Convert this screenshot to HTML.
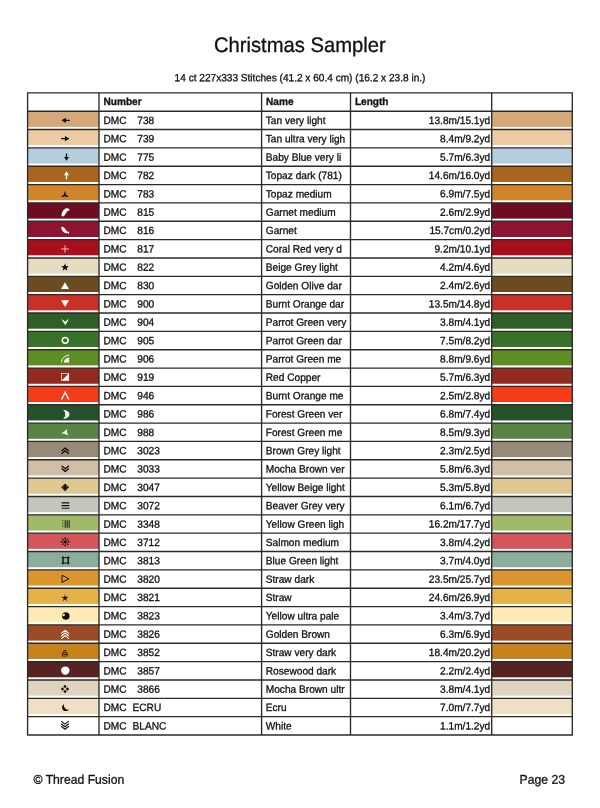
<!DOCTYPE html>
<html><head><meta charset="utf-8"><title>Christmas Sampler</title>
<style>
html,body{margin:0;padding:0;background:#fff;}
body{width:600px;height:808px;overflow:hidden;}
svg{display:block;filter:blur(0.35px);}
text{font-family:"Liberation Sans",sans-serif;fill:#111;stroke:#111;stroke-width:0.3px;text-rendering:geometricPrecision;}
.t{font-size:20.2px;}
.s{font-size:10.1px;}
.h{font-size:10.1px;font-weight:bold;}
.c{font-size:10.15px;}
.f{font-size:12.2px;}
</style></head>
<body>
<svg width="600" height="808" viewBox="0 0 600 808">
<text class="t" text-anchor="middle" transform="translate(299.80 52.00) rotate(0.03) scale(1 1.04)">Christmas Sampler</text>
<text class="s" text-anchor="middle" transform="translate(300.00 81.20) rotate(0.03) scale(1 1.04)">14 ct 227x333 Stitches (41.2 x 60.4 cm) (16.2 x 23.8 in.)</text>
<rect x="27.6" y="111.20" width="71.40" height="15.70" fill="#D4A878"/><rect x="491.7" y="111.20" width="80.60" height="15.70" fill="#D4A878"/>
<rect x="27.6" y="129.54" width="71.40" height="15.70" fill="#ECCBA2"/><rect x="491.7" y="129.54" width="80.60" height="15.70" fill="#ECCBA2"/>
<rect x="27.6" y="147.89" width="71.40" height="15.70" fill="#B5CEDE"/><rect x="491.7" y="147.89" width="80.60" height="15.70" fill="#B5CEDE"/>
<rect x="27.6" y="166.24" width="71.40" height="15.70" fill="#A9651E"/><rect x="491.7" y="166.24" width="80.60" height="15.70" fill="#A9651E"/>
<rect x="27.6" y="184.59" width="71.40" height="15.70" fill="#D0852A"/><rect x="491.7" y="184.59" width="80.60" height="15.70" fill="#D0852A"/>
<rect x="27.6" y="202.93" width="71.40" height="15.70" fill="#6E0C22"/><rect x="491.7" y="202.93" width="80.60" height="15.70" fill="#6E0C22"/>
<rect x="27.6" y="221.28" width="71.40" height="15.70" fill="#8C1430"/><rect x="491.7" y="221.28" width="80.60" height="15.70" fill="#8C1430"/>
<rect x="27.6" y="239.63" width="71.40" height="15.70" fill="#A80E1C"/><rect x="491.7" y="239.63" width="80.60" height="15.70" fill="#A80E1C"/>
<rect x="27.6" y="257.97" width="71.40" height="15.70" fill="#E6DCC0"/><rect x="491.7" y="257.97" width="80.60" height="15.70" fill="#E6DCC0"/>
<rect x="27.6" y="276.32" width="71.40" height="15.70" fill="#6B4C22"/><rect x="491.7" y="276.32" width="80.60" height="15.70" fill="#6B4C22"/>
<rect x="27.6" y="294.67" width="71.40" height="15.70" fill="#C83226"/><rect x="491.7" y="294.67" width="80.60" height="15.70" fill="#C83226"/>
<rect x="27.6" y="313.01" width="71.40" height="15.70" fill="#2F5F27"/><rect x="491.7" y="313.01" width="80.60" height="15.70" fill="#2F5F27"/>
<rect x="27.6" y="331.36" width="71.40" height="15.70" fill="#397128"/><rect x="491.7" y="331.36" width="80.60" height="15.70" fill="#397128"/>
<rect x="27.6" y="349.71" width="71.40" height="15.70" fill="#5C8E24"/><rect x="491.7" y="349.71" width="80.60" height="15.70" fill="#5C8E24"/>
<rect x="27.6" y="368.06" width="71.40" height="15.70" fill="#922A20"/><rect x="491.7" y="368.06" width="80.60" height="15.70" fill="#922A20"/>
<rect x="27.6" y="386.40" width="71.40" height="15.70" fill="#F53C1A"/><rect x="491.7" y="386.40" width="80.60" height="15.70" fill="#F53C1A"/>
<rect x="27.6" y="404.75" width="71.40" height="15.70" fill="#25512B"/><rect x="491.7" y="404.75" width="80.60" height="15.70" fill="#25512B"/>
<rect x="27.6" y="423.10" width="71.40" height="15.70" fill="#5A8445"/><rect x="491.7" y="423.10" width="80.60" height="15.70" fill="#5A8445"/>
<rect x="27.6" y="441.44" width="71.40" height="15.70" fill="#948C76"/><rect x="491.7" y="441.44" width="80.60" height="15.70" fill="#948C76"/>
<rect x="27.6" y="459.79" width="71.40" height="15.70" fill="#D2BDA6"/><rect x="491.7" y="459.79" width="80.60" height="15.70" fill="#D2BDA6"/>
<rect x="27.6" y="478.14" width="71.40" height="15.70" fill="#DEC992"/><rect x="491.7" y="478.14" width="80.60" height="15.70" fill="#DEC992"/>
<rect x="27.6" y="496.48" width="71.40" height="15.70" fill="#C4C5BD"/><rect x="491.7" y="496.48" width="80.60" height="15.70" fill="#C4C5BD"/>
<rect x="27.6" y="514.83" width="71.40" height="15.70" fill="#A2B96A"/><rect x="491.7" y="514.83" width="80.60" height="15.70" fill="#A2B96A"/>
<rect x="27.6" y="533.18" width="71.40" height="15.70" fill="#D2575D"/><rect x="491.7" y="533.18" width="80.60" height="15.70" fill="#D2575D"/>
<rect x="27.6" y="551.52" width="71.40" height="15.70" fill="#8BAD9C"/><rect x="491.7" y="551.52" width="80.60" height="15.70" fill="#8BAD9C"/>
<rect x="27.6" y="569.87" width="71.40" height="15.70" fill="#DA962C"/><rect x="491.7" y="569.87" width="80.60" height="15.70" fill="#DA962C"/>
<rect x="27.6" y="588.22" width="71.40" height="15.70" fill="#E5B24A"/><rect x="491.7" y="588.22" width="80.60" height="15.70" fill="#E5B24A"/>
<rect x="27.6" y="606.57" width="71.40" height="15.70" fill="#FEEAB4"/><rect x="491.7" y="606.57" width="80.60" height="15.70" fill="#FEEAB4"/>
<rect x="27.6" y="624.91" width="71.40" height="15.70" fill="#9B4B25"/><rect x="491.7" y="624.91" width="80.60" height="15.70" fill="#9B4B25"/>
<rect x="27.6" y="643.26" width="71.40" height="15.70" fill="#C6831C"/><rect x="491.7" y="643.26" width="80.60" height="15.70" fill="#C6831C"/>
<rect x="27.6" y="661.61" width="71.40" height="15.70" fill="#562322"/><rect x="491.7" y="661.61" width="80.60" height="15.70" fill="#562322"/>
<rect x="27.6" y="679.95" width="71.40" height="15.70" fill="#DED3BF"/><rect x="491.7" y="679.95" width="80.60" height="15.70" fill="#DED3BF"/>
<rect x="27.6" y="698.30" width="71.40" height="15.70" fill="#EEDFC5"/><rect x="491.7" y="698.30" width="80.60" height="15.70" fill="#EEDFC5"/>
<g stroke="#2a2a2a" stroke-width="1.35" fill="none">
<path d="M27.1,92.85H572.8"/><path d="M27.1,111.20H572.8"/><path d="M27.1,129.54H572.8"/><path d="M27.1,147.89H572.8"/><path d="M27.1,166.24H572.8"/><path d="M27.1,184.59H572.8"/><path d="M27.1,202.93H572.8"/><path d="M27.1,221.28H572.8"/><path d="M27.1,239.63H572.8"/><path d="M27.1,257.97H572.8"/><path d="M27.1,276.32H572.8"/><path d="M27.1,294.67H572.8"/><path d="M27.1,313.01H572.8"/><path d="M27.1,331.36H572.8"/><path d="M27.1,349.71H572.8"/><path d="M27.1,368.06H572.8"/><path d="M27.1,386.40H572.8"/><path d="M27.1,404.75H572.8"/><path d="M27.1,423.10H572.8"/><path d="M27.1,441.44H572.8"/><path d="M27.1,459.79H572.8"/><path d="M27.1,478.14H572.8"/><path d="M27.1,496.48H572.8"/><path d="M27.1,514.83H572.8"/><path d="M27.1,533.18H572.8"/><path d="M27.1,551.52H572.8"/><path d="M27.1,569.87H572.8"/><path d="M27.1,588.22H572.8"/><path d="M27.1,606.57H572.8"/><path d="M27.1,624.91H572.8"/><path d="M27.1,643.26H572.8"/><path d="M27.1,661.61H572.8"/><path d="M27.1,679.95H572.8"/><path d="M27.1,698.30H572.8"/><path d="M27.1,716.65H572.8"/><path d="M27.1,735.00H572.8"/>
<path d="M27.6,92.85V735.00"/><path d="M99.0,92.85V735.00"/><path d="M261.6,92.85V735.00"/><path d="M350.5,92.85V735.00"/><path d="M491.7,92.85V735.00"/><path d="M572.3,92.85V735.00"/>
</g>
<text class="h" transform="translate(103.50 104.95) rotate(0.03) scale(1 1.04)">Number</text><text class="h" transform="translate(266.00 104.95) rotate(0.03) scale(1 1.04)">Name</text><text class="h" transform="translate(354.90 104.95) rotate(0.03) scale(1 1.04)">Length</text>
<g transform="translate(65.6,120.34)"><path d="M-4.2,0 L0.3,-2.6 L0.3,-0.65 L4.1,-0.65 L4.1,0.65 L0.3,0.65 L0.3,2.6 Z" fill="#111"/></g><text class="c" transform="translate(103.50 124.00) rotate(0.03) scale(1 1.04)">DMC</text><text class="c" transform="translate(137.30 124.00) rotate(0.03) scale(1 1.04)">738</text><text class="c" transform="translate(265.80 124.00) rotate(0.03) scale(1 1.04)">Tan very light</text><text class="c" text-anchor="end" transform="translate(490.20 124.00) rotate(0.03) scale(1 1.04)">13.8m/15.1yd</text>
<g transform="translate(65.2,138.67)"><path d="M4.2,0 L-0.3,-2.6 L-0.3,-0.65 L-4.1,-0.65 L-4.1,0.65 L-0.3,0.65 L-0.3,2.6 Z" fill="#111"/></g><text class="c" transform="translate(103.50 142.35) rotate(0.03) scale(1 1.04)">DMC</text><text class="c" transform="translate(137.30 142.35) rotate(0.03) scale(1 1.04)">739</text><text class="c" transform="translate(265.80 142.35) rotate(0.03) scale(1 1.04)">Tan ultra very ligh</text><text class="c" text-anchor="end" transform="translate(490.20 142.35) rotate(0.03) scale(1 1.04)">8.4m/9.2yd</text>
<g transform="translate(66.5,157.00)"><path d="M0,3.8 L-2.5,-0.1 L-0.65,-0.1 L-0.65,-3.5 L0.65,-3.5 L0.65,-0.1 L2.5,-0.1 Z" fill="#111"/></g><text class="c" transform="translate(103.50 160.69) rotate(0.03) scale(1 1.04)">DMC</text><text class="c" transform="translate(137.30 160.69) rotate(0.03) scale(1 1.04)">775</text><text class="c" transform="translate(265.80 160.69) rotate(0.03) scale(1 1.04)">Baby Blue very li</text><text class="c" text-anchor="end" transform="translate(490.20 160.69) rotate(0.03) scale(1 1.04)">5.7m/6.3yd</text>
<g transform="translate(66.5,175.24)"><path d="M0,-4 L-2.5,0.1 L-0.7,0.1 L-0.7,3.9 L0.7,3.9 L0.7,0.1 L2.5,0.1 Z" fill="#fff"/></g><text class="c" transform="translate(103.50 179.04) rotate(0.03) scale(1 1.04)">DMC</text><text class="c" transform="translate(137.30 179.04) rotate(0.03) scale(1 1.04)">782</text><text class="c" transform="translate(265.80 179.04) rotate(0.03) scale(1 1.04)">Topaz dark (781)</text><text class="c" text-anchor="end" transform="translate(490.20 179.04) rotate(0.03) scale(1 1.04)">14.6m/16.0yd</text>
<g transform="translate(64.9,194.28)"><path d="M0,-3.5 L0.9,0 C1.8,1.1 2.9,1.9 3.9,2.5 C2.4,2.9 1,2.6 0,2 C-1,2.6 -2.4,2.9 -3.9,2.5 C-2.9,1.9 -1.8,1.1 -0.9,0 Z" fill="#111"/></g><text class="c" transform="translate(103.50 197.39) rotate(0.03) scale(1 1.04)">DMC</text><text class="c" transform="translate(137.30 197.39) rotate(0.03) scale(1 1.04)">783</text><text class="c" transform="translate(265.80 197.39) rotate(0.03) scale(1 1.04)">Topaz medium</text><text class="c" text-anchor="end" transform="translate(490.20 197.39) rotate(0.03) scale(1 1.04)">6.9m/7.5yd</text>
<g transform="translate(65.4,212.31)"><path d="M-3.9,3.9 C-3.9,0.2 -2,-3.4 1.4,-4 C3.2,-4.3 4.3,-3 4,-1.2 C3,-2.2 1.9,-1.4 1,0.2 C0,1.8 -0.8,3 -1.5,4 Z" fill="#fff"/></g><text class="c" transform="translate(103.50 215.74) rotate(0.03) scale(1 1.04)">DMC</text><text class="c" transform="translate(137.30 215.74) rotate(0.03) scale(1 1.04)">815</text><text class="c" transform="translate(265.80 215.74) rotate(0.03) scale(1 1.04)">Garnet medium</text><text class="c" text-anchor="end" transform="translate(490.20 215.74) rotate(0.03) scale(1 1.04)">2.6m/2.9yd</text>
<g transform="translate(65.2,230.44)"><path d="M-3.9,-2.4 C-3.9,-3.6 -2.8,-4 -1.8,-3.3 C0,-2 1,0.2 2.2,1.2 L4,1.4 L3.8,3.6 L2.4,2.6 C0.6,3.2 -1.4,2.4 -2.6,0.6 C-3.4,-0.6 -3.9,-1.6 -3.9,-2.4 Z" fill="#fff"/></g><text class="c" transform="translate(103.50 234.08) rotate(0.03) scale(1 1.04)">DMC</text><text class="c" transform="translate(137.30 234.08) rotate(0.03) scale(1 1.04)">816</text><text class="c" transform="translate(265.80 234.08) rotate(0.03) scale(1 1.04)">Garnet</text><text class="c" text-anchor="end" transform="translate(490.20 234.08) rotate(0.03) scale(1 1.04)">15.7cm/0.2yd</text>
<g transform="translate(65.0,248.98)"><path d="M-3.9,0 H3.9 M0,-3.8 V3.8" fill="none" stroke="#fff" stroke-width="0.8" opacity="0.9"/></g><text class="c" transform="translate(103.50 252.43) rotate(0.03) scale(1 1.04)">DMC</text><text class="c" transform="translate(137.30 252.43) rotate(0.03) scale(1 1.04)">817</text><text class="c" transform="translate(265.80 252.43) rotate(0.03) scale(1 1.04)">Coral Red very d</text><text class="c" text-anchor="end" transform="translate(490.20 252.43) rotate(0.03) scale(1 1.04)">9.2m/10.1yd</text>
<g transform="translate(65.0,267.42)"><path d="M0.00,-4.10 L1.00,-1.38 L3.90,-1.27 L1.62,0.53 L2.41,3.32 L0.00,1.70 L-2.41,3.32 L-1.62,0.53 L-3.90,-1.27 L-1.00,-1.38 Z" fill="#111"/></g><text class="c" transform="translate(103.50 270.78) rotate(0.03) scale(1 1.04)">DMC</text><text class="c" transform="translate(137.30 270.78) rotate(0.03) scale(1 1.04)">822</text><text class="c" transform="translate(265.80 270.78) rotate(0.03) scale(1 1.04)">Beige Grey light</text><text class="c" text-anchor="end" transform="translate(490.20 270.78) rotate(0.03) scale(1 1.04)">4.2m/4.6yd</text>
<g transform="translate(65.0,285.65)"><path d="M0,-3.5 L4,3.3 L-4,3.3 Z" fill="#fff"/></g><text class="c" transform="translate(103.50 289.12) rotate(0.03) scale(1 1.04)">DMC</text><text class="c" transform="translate(137.30 289.12) rotate(0.03) scale(1 1.04)">830</text><text class="c" transform="translate(265.80 289.12) rotate(0.03) scale(1 1.04)">Golden Olive dar</text><text class="c" text-anchor="end" transform="translate(490.20 289.12) rotate(0.03) scale(1 1.04)">2.4m/2.6yd</text>
<g transform="translate(65.0,303.48)"><path d="M0,3.5 L4,-3.3 L-4,-3.3 Z" fill="#fff"/></g><text class="c" transform="translate(103.50 307.47) rotate(0.03) scale(1 1.04)">DMC</text><text class="c" transform="translate(137.30 307.47) rotate(0.03) scale(1 1.04)">900</text><text class="c" transform="translate(265.80 307.47) rotate(0.03) scale(1 1.04)">Burnt Orange dar</text><text class="c" text-anchor="end" transform="translate(490.20 307.47) rotate(0.03) scale(1 1.04)">13.5m/14.8yd</text>
<g transform="translate(65.2,321.82)"><path d="M-4,-2.9 C-2,-2 -0.8,-0.8 0,-0.2 C0.8,-0.8 2,-2 4,-2.9 C2.6,-0.8 1,1.6 0,3.4 C-1,1.6 -2.6,-0.8 -4,-2.9 Z" fill="#fff"/></g><text class="c" transform="translate(103.50 325.82) rotate(0.03) scale(1 1.04)">DMC</text><text class="c" transform="translate(137.30 325.82) rotate(0.03) scale(1 1.04)">904</text><text class="c" transform="translate(265.80 325.82) rotate(0.03) scale(1 1.04)">Parrot Green very</text><text class="c" text-anchor="end" transform="translate(490.20 325.82) rotate(0.03) scale(1 1.04)">3.8m/4.1yd</text>
<g transform="translate(65.2,340.36)"><circle cx="0" cy="0" r="2.95" fill="none" stroke="#fff" stroke-width="1.55"/></g><text class="c" transform="translate(103.50 344.16) rotate(0.03) scale(1 1.04)">DMC</text><text class="c" transform="translate(137.30 344.16) rotate(0.03) scale(1 1.04)">905</text><text class="c" transform="translate(265.80 344.16) rotate(0.03) scale(1 1.04)">Parrot Green dar</text><text class="c" text-anchor="end" transform="translate(490.20 344.16) rotate(0.03) scale(1 1.04)">7.5m/8.2yd</text>
<g transform="translate(65.2,358.79)"><path d="M-3.7,3.8 C-3.5,-0.4 -0.4,-3.4 3.9,-3.6" fill="none" stroke="#fff" stroke-width="0.9"/><path d="M-1.3,3.8 C-1.1,1 1.1,-1.2 3.9,-1.3 L3.9,3.8 Z" fill="#fff"/></g><text class="c" transform="translate(103.50 362.51) rotate(0.03) scale(1 1.04)">DMC</text><text class="c" transform="translate(137.30 362.51) rotate(0.03) scale(1 1.04)">906</text><text class="c" transform="translate(265.80 362.51) rotate(0.03) scale(1 1.04)">Parrot Green me</text><text class="c" text-anchor="end" transform="translate(490.20 362.51) rotate(0.03) scale(1 1.04)">8.8m/9.6yd</text>
<g transform="translate(65.2,377.02)"><rect x="-3.6" y="-3.6" width="7.2" height="7.2" fill="none" stroke="#fff" stroke-width="0.6"/><path d="M3.6,-3.6 L3.6,3.6 L-3.6,3.6 Z" fill="#fff"/></g><text class="c" transform="translate(103.50 380.86) rotate(0.03) scale(1 1.04)">DMC</text><text class="c" transform="translate(137.30 380.86) rotate(0.03) scale(1 1.04)">919</text><text class="c" transform="translate(265.80 380.86) rotate(0.03) scale(1 1.04)">Red Copper</text><text class="c" text-anchor="end" transform="translate(490.20 380.86) rotate(0.03) scale(1 1.04)">5.7m/6.3yd</text>
<g transform="translate(65.1,395.86)"><path d="M-3.6,3.7 L0,-3.5 L3.6,3.7" fill="none" stroke="#fff" stroke-width="1.4"/></g><text class="c" transform="translate(103.50 399.21) rotate(0.03) scale(1 1.04)">DMC</text><text class="c" transform="translate(137.30 399.21) rotate(0.03) scale(1 1.04)">946</text><text class="c" transform="translate(265.80 399.21) rotate(0.03) scale(1 1.04)">Burnt Orange me</text><text class="c" text-anchor="end" transform="translate(490.20 399.21) rotate(0.03) scale(1 1.04)">2.5m/2.8yd</text>
<g transform="translate(66.2,414.29)"><path d="M-3.2,-4.4 C5.4,-4.4 5.4,4.4 -3.2,4.4 C0,2.4 0,-2.4 -3.2,-4.4 Z" fill="#fff"/></g><text class="c" transform="translate(103.50 417.55) rotate(0.03) scale(1 1.04)">DMC</text><text class="c" transform="translate(137.30 417.55) rotate(0.03) scale(1 1.04)">986</text><text class="c" transform="translate(265.80 417.55) rotate(0.03) scale(1 1.04)">Forest Green ver</text><text class="c" text-anchor="end" transform="translate(490.20 417.55) rotate(0.03) scale(1 1.04)">6.8m/7.4yd</text>
<g transform="translate(64.9,432.33)"><path d="M-3.8,1 C-1.1,0.2 0.7,-1.4 1.9,-3.6 C1.8,-0.9 2.2,1.3 3.7,3.5 C1.6,2 -1.1,1.1 -3.8,1 Z" fill="#fff"/></g><text class="c" transform="translate(103.50 435.90) rotate(0.03) scale(1 1.04)">DMC</text><text class="c" transform="translate(137.30 435.90) rotate(0.03) scale(1 1.04)">988</text><text class="c" transform="translate(265.80 435.90) rotate(0.03) scale(1 1.04)">Forest Green me</text><text class="c" text-anchor="end" transform="translate(490.20 435.90) rotate(0.03) scale(1 1.04)">8.5m/9.3yd</text>
<g transform="translate(65.2,450.77)"><path d="M-3.7,0.3 L0,-2.7 L3.7,0.3 M-3.7,3 L0,0 L3.7,3" fill="none" stroke="#111" stroke-width="1.4" stroke-linejoin="round"/></g><text class="c" transform="translate(103.50 454.25) rotate(0.03) scale(1 1.04)">DMC</text><text class="c" transform="translate(137.30 454.25) rotate(0.03) scale(1 1.04)">3023</text><text class="c" transform="translate(265.80 454.25) rotate(0.03) scale(1 1.04)">Brown Grey light</text><text class="c" text-anchor="end" transform="translate(490.20 454.25) rotate(0.03) scale(1 1.04)">2.3m/2.5yd</text>
<g transform="translate(65.2,468.80)"><path d="M-3.7,-0.3 L0,2.7 L3.7,-0.3 M-3.7,-3 L0,0 L3.7,-3" fill="none" stroke="#111" stroke-width="1.4" stroke-linejoin="round"/></g><text class="c" transform="translate(103.50 472.59) rotate(0.03) scale(1 1.04)">DMC</text><text class="c" transform="translate(137.30 472.59) rotate(0.03) scale(1 1.04)">3033</text><text class="c" transform="translate(265.80 472.59) rotate(0.03) scale(1 1.04)">Mocha Brown ver</text><text class="c" text-anchor="end" transform="translate(490.20 472.59) rotate(0.03) scale(1 1.04)">5.8m/6.3yd</text>
<g transform="translate(65.1,487.33)"><path d="M0,-3.9 L4.1,0 L0,3.9 L-4.1,0 Z" fill="#111" opacity="0.8"/><path d="M0,-3.9 L1.2,0 L0,3.9 L-1.2,0 Z" fill="#111"/></g><text class="c" transform="translate(103.50 490.94) rotate(0.03) scale(1 1.04)">DMC</text><text class="c" transform="translate(137.30 490.94) rotate(0.03) scale(1 1.04)">3047</text><text class="c" transform="translate(265.80 490.94) rotate(0.03) scale(1 1.04)">Yellow Beige light</text><text class="c" text-anchor="end" transform="translate(490.20 490.94) rotate(0.03) scale(1 1.04)">5.3m/5.8yd</text>
<g transform="translate(65.5,505.57)"><path d="M-3.9,-2.7 H3.9 M-3.9,0 H3.9 M-3.9,2.7 H3.9" fill="none" stroke="#111" stroke-width="1.15"/></g><text class="c" transform="translate(103.50 509.29) rotate(0.03) scale(1 1.04)">DMC</text><text class="c" transform="translate(137.30 509.29) rotate(0.03) scale(1 1.04)">3072</text><text class="c" transform="translate(265.80 509.29) rotate(0.03) scale(1 1.04)">Beaver Grey very</text><text class="c" text-anchor="end" transform="translate(490.20 509.29) rotate(0.03) scale(1 1.04)">6.1m/6.7yd</text>
<g transform="translate(66.0,524.01)"><path d="M-0.8,-3.8 V3.8 M1.2,-3.8 V3.8 M3.2,-3.8 V3.8" fill="none" stroke="#111" stroke-width="0.95"/><path d="M-3.2,-3.8 V3.8" fill="none" stroke="#111" stroke-width="0.9" stroke-dasharray="0.8 0.7" opacity="0.85"/></g><text class="c" transform="translate(103.50 527.63) rotate(0.03) scale(1 1.04)">DMC</text><text class="c" transform="translate(137.30 527.63) rotate(0.03) scale(1 1.04)">3348</text><text class="c" transform="translate(265.80 527.63) rotate(0.03) scale(1 1.04)">Yellow Green ligh</text><text class="c" text-anchor="end" transform="translate(490.20 527.63) rotate(0.03) scale(1 1.04)">16.2m/17.7yd</text>
<g transform="translate(65.2,541.84)"><path d="M0,-4.2 V4.2 M-4.2,0 H4.2 M-3,-3 L3,3 M-3,3 L3,-3" fill="none" stroke="#111" stroke-width="0.75" opacity="0.95"/><circle cx="3.60" cy="0.00" r="0.72" fill="#111"/><circle cx="2.55" cy="2.55" r="0.72" fill="#111"/><circle cx="0.00" cy="3.60" r="0.72" fill="#111"/><circle cx="-2.55" cy="2.55" r="0.72" fill="#111"/><circle cx="-3.60" cy="0.00" r="0.72" fill="#111"/><circle cx="-2.55" cy="-2.55" r="0.72" fill="#111"/><circle cx="-0.00" cy="-3.60" r="0.72" fill="#111"/><circle cx="2.55" cy="-2.55" r="0.72" fill="#111"/><circle cx="0" cy="0" r="0.8" fill="#111"/></g><text class="c" transform="translate(103.50 545.98) rotate(0.03) scale(1 1.04)">DMC</text><text class="c" transform="translate(137.30 545.98) rotate(0.03) scale(1 1.04)">3712</text><text class="c" transform="translate(265.80 545.98) rotate(0.03) scale(1 1.04)">Salmon medium</text><text class="c" text-anchor="end" transform="translate(490.20 545.98) rotate(0.03) scale(1 1.04)">3.8m/4.2yd</text>
<g transform="translate(65.6,560.38)"><path d="M-2.6,-3.8 V3.8 M2.6,-3.8 V3.8" fill="none" stroke="#111" stroke-width="1.4"/><path d="M-4,-2.7 H4 M-4,2.7 H4" fill="none" stroke="#111" stroke-width="1.0"/></g><text class="c" transform="translate(103.50 564.33) rotate(0.03) scale(1 1.04)">DMC</text><text class="c" transform="translate(137.30 564.33) rotate(0.03) scale(1 1.04)">3813</text><text class="c" transform="translate(265.80 564.33) rotate(0.03) scale(1 1.04)">Blue Green light</text><text class="c" text-anchor="end" transform="translate(490.20 564.33) rotate(0.03) scale(1 1.04)">3.7m/4.0yd</text>
<g transform="translate(65.3,578.81)"><path d="M-3.3,-3.6 L3.5,0 L-3.3,3.6 Z" fill="none" stroke="#111" stroke-width="0.95"/></g><text class="c" transform="translate(103.50 582.67) rotate(0.03) scale(1 1.04)">DMC</text><text class="c" transform="translate(137.30 582.67) rotate(0.03) scale(1 1.04)">3820</text><text class="c" transform="translate(265.80 582.67) rotate(0.03) scale(1 1.04)">Straw dark</text><text class="c" text-anchor="end" transform="translate(490.20 582.67) rotate(0.03) scale(1 1.04)">23.5m/25.7yd</text>
<g transform="translate(65.0,598.04)"><path d="M0.00,-3.90 L0.73,-1.01 L3.71,-1.21 L1.19,0.39 L2.29,3.16 L0.00,1.25 L-2.29,3.16 L-1.19,0.39 L-3.71,-1.21 L-0.73,-1.01 Z" fill="#111"/></g><text class="c" transform="translate(103.50 601.02) rotate(0.03) scale(1 1.04)">DMC</text><text class="c" transform="translate(137.30 601.02) rotate(0.03) scale(1 1.04)">3821</text><text class="c" transform="translate(265.80 601.02) rotate(0.03) scale(1 1.04)">Straw</text><text class="c" text-anchor="end" transform="translate(490.20 601.02) rotate(0.03) scale(1 1.04)">24.6m/26.9yd</text>
<g transform="translate(65.8,615.98)"><circle cx="0" cy="0" r="3.8" fill="#111"/><circle cx="-2.2" cy="-0.9" r="1.25" fill="#FEEAB4"/></g><text class="c" transform="translate(103.50 619.37) rotate(0.03) scale(1 1.04)">DMC</text><text class="c" transform="translate(137.30 619.37) rotate(0.03) scale(1 1.04)">3823</text><text class="c" transform="translate(265.80 619.37) rotate(0.03) scale(1 1.04)">Yellow ultra pale</text><text class="c" text-anchor="end" transform="translate(490.20 619.37) rotate(0.03) scale(1 1.04)">3.4m/3.7yd</text>
<g transform="translate(65.1,634.32)"><path d="M-3.8,-0.9 L0,-3.9 L3.8,-0.9 M-3.8,1.7 L0,-1.3 L3.8,1.7 M-3.8,4.3 L0,1.3 L3.8,4.3" fill="none" stroke="#fff" stroke-width="1.15"/></g><text class="c" transform="translate(103.50 637.72) rotate(0.03) scale(1 1.04)">DMC</text><text class="c" transform="translate(137.30 637.72) rotate(0.03) scale(1 1.04)">3826</text><text class="c" transform="translate(265.80 637.72) rotate(0.03) scale(1 1.04)">Golden Brown</text><text class="c" text-anchor="end" transform="translate(490.20 637.72) rotate(0.03) scale(1 1.04)">6.3m/6.9yd</text>
<g transform="translate(64.8,653.25)"><path d="M-2.4,-0.4 H2.4 V2.8 H-2.4 Z M-2.4,1.2 H2.4" fill="none" stroke="#3a2206" stroke-width="0.9" opacity="0.95"/><path d="M-1,-0.4 V-2.6 H1.2 V-0.4" fill="none" stroke="#3a2206" stroke-width="0.9" opacity="0.95"/></g><text class="c" transform="translate(103.50 656.06) rotate(0.03) scale(1 1.04)">DMC</text><text class="c" transform="translate(137.30 656.06) rotate(0.03) scale(1 1.04)">3852</text><text class="c" transform="translate(265.80 656.06) rotate(0.03) scale(1 1.04)">Straw very dark</text><text class="c" text-anchor="end" transform="translate(490.20 656.06) rotate(0.03) scale(1 1.04)">18.4m/20.2yd</text>
<g transform="translate(65.3,670.59)"><circle cx="0" cy="0" r="4.2" fill="#fff"/></g><text class="c" transform="translate(103.50 674.41) rotate(0.03) scale(1 1.04)">DMC</text><text class="c" transform="translate(137.30 674.41) rotate(0.03) scale(1 1.04)">3857</text><text class="c" transform="translate(265.80 674.41) rotate(0.03) scale(1 1.04)">Rosewood dark</text><text class="c" text-anchor="end" transform="translate(490.20 674.41) rotate(0.03) scale(1 1.04)">2.2m/2.4yd</text>
<g transform="translate(65.0,689.02)"><path d="M0,-4.2 L1.7,-2.5 L0,-0.8 L-1.7,-2.5 Z M0,4.2 L1.7,2.5 L0,0.8 L-1.7,2.5 Z M-4.2,0 L-2.5,-1.7 L-0.8,0 L-2.5,1.7 Z M4.2,0 L2.5,-1.7 L0.8,0 L2.5,1.7 Z" fill="#111"/></g><text class="c" transform="translate(103.50 692.76) rotate(0.03) scale(1 1.04)">DMC</text><text class="c" transform="translate(137.30 692.76) rotate(0.03) scale(1 1.04)">3866</text><text class="c" transform="translate(265.80 692.76) rotate(0.03) scale(1 1.04)">Mocha Brown ultr</text><text class="c" text-anchor="end" transform="translate(490.20 692.76) rotate(0.03) scale(1 1.04)">3.8m/4.1yd</text>
<g transform="translate(65.0,707.96)"><path d="M-1.2,-4 C-5.6,0.4 -0.6,5.6 4.3,1.8 C1.2,2 -1.4,-0.2 -1.2,-4 Z" fill="#111"/></g><text class="c" transform="translate(103.50 711.10) rotate(0.03) scale(1 1.04)">DMC</text><text class="c" transform="translate(132.50 711.10) rotate(0.03) scale(1 1.04)">ECRU</text><text class="c" transform="translate(265.80 711.10) rotate(0.03) scale(1 1.04)">Ecru</text><text class="c" text-anchor="end" transform="translate(490.20 711.10) rotate(0.03) scale(1 1.04)">7.0m/7.7yd</text>
<g transform="translate(65.0,725.39)"><path d="M-3.8,0.9 L0,3.9 L3.8,0.9 M-3.8,-1.7 L0,1.3 L3.8,-1.7 M-3.8,-4.3 L0,-1.3 L3.8,-4.3" fill="none" stroke="#111" stroke-width="1.15"/></g><text class="c" transform="translate(103.50 729.45) rotate(0.03) scale(1 1.04)">DMC</text><text class="c" transform="translate(132.50 729.45) rotate(0.03) scale(1 1.04)">BLANC</text><text class="c" transform="translate(265.80 729.45) rotate(0.03) scale(1 1.04)">White</text><text class="c" text-anchor="end" transform="translate(490.20 729.45) rotate(0.03) scale(1 1.04)">1.1m/1.2yd</text>
<text class="f" transform="translate(33.50 783.70) rotate(0.03) scale(1 1.04)">© Thread Fusion</text>
<text class="f" text-anchor="end" transform="translate(565.00 783.70) rotate(0.03) scale(1 1.04)">Page 23</text>
</svg>
</body></html>
